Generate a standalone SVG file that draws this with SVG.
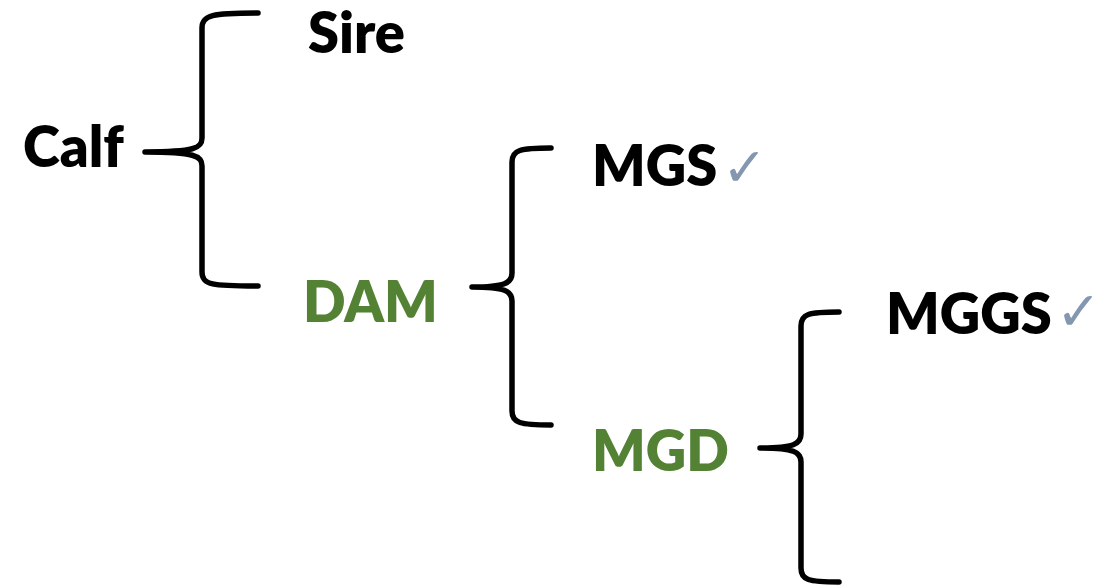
<svg xmlns="http://www.w3.org/2000/svg" width="1109" height="588" viewBox="0 0 1109 588">
<style>
.lbl{font-family:Lato,"Liberation Sans",sans-serif;font-weight:800;font-size:56px}
.blk{fill:#000}
.grn{fill:#548235}
.chk{font-family:"DejaVu Sans",sans-serif;font-size:54px;fill:#8497B0}
.brace{fill:none;stroke:#000;stroke-width:5.5;stroke-linecap:round;stroke-linejoin:round}
</style>
<rect width="1109" height="588" fill="#fff"/>
<g id="connectors">
<path class="brace" d="M258,13 C212,13 202,15 202,28 L202,138 C202,148 195,152 145,152 C195,152 202,156 202,166 L202,272 C202,285 212,286 258,286"/>
<path class="brace" d="M551,148 C520,148 512,150 512,162 L512,273 C512,283 505,287 472,287 C505,287 512,291 512,301 L512,411 C512,423 520,425 551,425"/>
<path class="brace" d="M839,312 C808,312 801,314 801,326 L801,434 C801,444 794,448 760,448 C794,448 801,452 801,462 L801,568 C801,580 808,582 839,582"/>
</g>
<g id="calf"><text class="lbl blk" x="23" y="167">Calf</text></g>
<g id="sire"><text class="lbl blk" x="308" y="53">Sire</text></g>
<g id="dam"><text class="lbl grn" x="303" y="322">DAM</text></g>
<g id="mgs"><text class="lbl blk" x="592" y="186">MGS</text><text class="chk" x="722" y="186">✓</text></g>
<g id="mgd"><text class="lbl grn" x="592" y="471">MGD</text></g>
<g id="mggs"><text class="lbl blk" x="886" y="334">MGGS</text><text class="chk" x="1056" y="330">✓</text></g>
</svg>
